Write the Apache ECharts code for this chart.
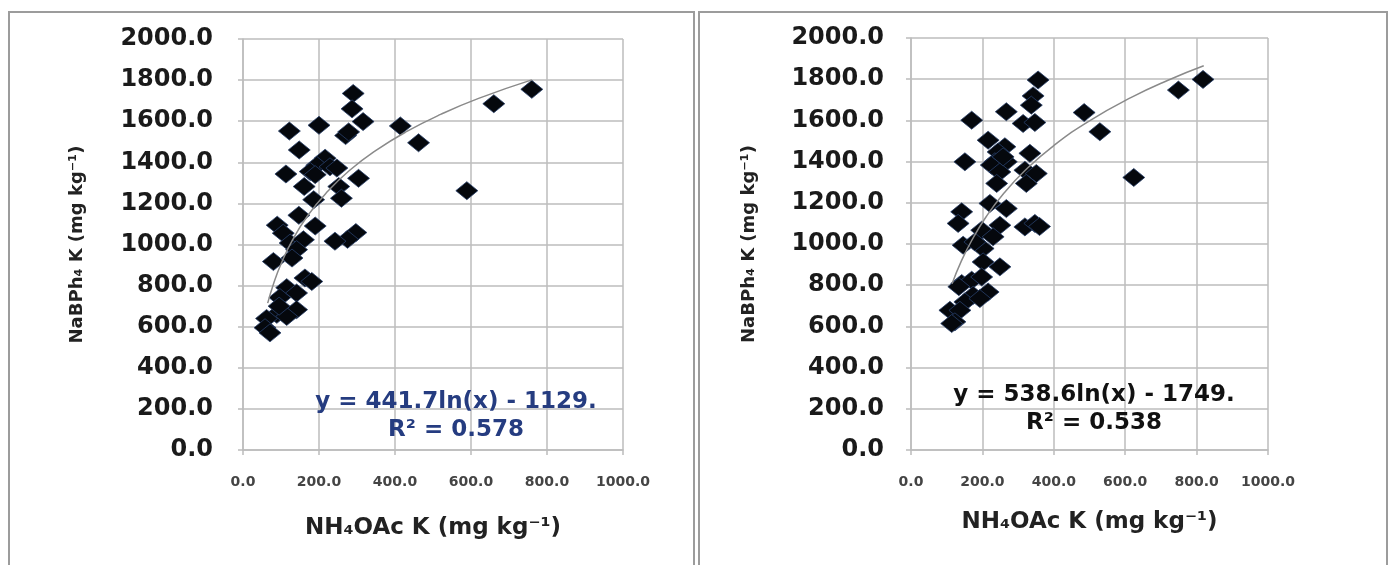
<!DOCTYPE html>
<html>
<head>
<meta charset="utf-8">
<script src="https://cdn.jsdelivr.net/npm/echarts@6/dist/echarts.min.js"></script>
<style>
  html, body { margin:0; padding:0; background:#fff; }
  #chart { width:1391px; height:565px; }
</style>
</head>
<body>
<div id="chart"></div>
<script>
// NH4OAc K (x) vs NaBPh4 K (y), mg/kg — left panel
const leftX = [760,660,589,462,414,290,287,316,200,122,270,278,148,216,194,229,247,113,177,190,304,161,252,186,259,147,90,190,297,275,242,106,124,159,141,129,80,163,181,115,97,141,141,89,115,62,58,71,95];
const leftY = [1755,1685,1262,1495,1577,1735,1660,1598,1580,1552,1530,1548,1460,1420,1385,1378,1372,1343,1355,1340,1322,1282,1282,1218,1225,1142,1094,1090,1058,1025,1016,1055,1007,1023,975,934,917,837,820,790,742,764,683,660,650,640,595,570,700];
// right panel
const rightX = [818,749,485,529,624,356,342,337,267,170,314,347,216,263,244,151,333,235,267,225,249,319,351,240,323,221,267,142,132,319,347,249,198,230,146,202,179,202,249,142,170,198,216,174,151,193,109,137,123,114,134,360,258];
const rightY = [1799,1747,1638,1545,1323,1796,1719,1674,1642,1601,1585,1590,1504,1472,1447,1399,1440,1399,1399,1383,1350,1358,1342,1294,1294,1197,1172,1156,1100,1083,1100,1091,1067,1035,994,978,1010,913,889,808,824,840,767,751,719,735,678,678,622,614,793,1085,1423];

// log trendlines as drawn
const leftTrendX = [65,80,100,130,170,220,280,350,430,520,620,760];
const leftTrendY = [715,807,905,1021,1140,1253,1360,1458,1549,1633,1711,1801];
const rightTrendX = [115,140,170,210,260,320,400,500,620,720,820];
const rightTrendY = [807,913,1017,1131,1246,1358,1478,1598,1714,1795,1865];

const leftEq = ['y = 441.7ln(x) - 1129.', 'R² = 0.578'];
const rightEq = ['y = 538.6ln(x) - 1749.', 'R² = 0.538'];

const xTitle = 'NH₄OAc K (mg kg⁻¹)';
const yTitle = 'NaBPh₄ K (mg kg⁻¹)';

const font = 'DejaVu Sans';
const gridColor = '#bcbcbc';

const zip = (xs, ys) => xs.map((x, i) => [x, ys[i]]);

function xAxis(idx, gap){
  return {
    type: 'value', gridIndex: idx, min: 0, max: 1000, interval: 200,
    name: xTitle, nameLocation: 'middle', nameGap: gap,
    nameTextStyle: { fontFamily: font, fontWeight: 'bold', fontSize: 23, color: '#222' },
    axisLine: { show: true, lineStyle: { color: gridColor, width: 1.5 } },
    axisTick: { show: true, length: 5, lineStyle: { color: gridColor, width: 1.5 } },
    axisLabel: { margin: 25, fontFamily: font, fontWeight: 'bold', fontSize: 14, color: '#444', formatter: v => v.toFixed(1) },
    splitLine: { show: true, lineStyle: { color: gridColor, width: 1.5 } }
  };
}
function yAxis(idx, gap, margin){
  return {
    type: 'value', gridIndex: idx, min: 0, max: 2000, interval: 200,
    name: yTitle, nameLocation: 'middle', nameGap: gap, nameRotate: 90,
    nameTextStyle: { fontFamily: font, fontWeight: 'bold', fontSize: 18, color: '#222' },
    axisLine: { show: true, lineStyle: { color: gridColor, width: 1.5 } },
    axisTick: { show: true, length: 5, lineStyle: { color: gridColor, width: 1.5 } },
    axisLabel: { margin: margin, fontFamily: font, fontWeight: 'bold', fontSize: 24, color: '#1a1a1a', formatter: v => v.toFixed(1) },
    splitLine: { show: true, lineStyle: { color: gridColor, width: 1.5 } }
  };
}
function pts(idx, xs, ys){
  return {
    type: 'scatter', xAxisIndex: idx, yAxisIndex: idx,
    data: zip(xs, ys), symbol: 'diamond', symbolSize: [22, 18],
    itemStyle: { color: '#05080d', opacity: 1, borderColor: '#28406a', borderWidth: 0.8 }, z: 3
  };
}
function trend(idx, xs, ys){
  return {
    type: 'line', xAxisIndex: idx, yAxisIndex: idx,
    data: zip(xs, ys), symbol: 'none', smooth: true,
    lineStyle: { color: '#8a8a8a', width: 1.5 }, z: 4
  };
}
function eqText(lines, cx, y1, y2, color){
  const st = { fontFamily: font, fontWeight: 'bold', fontSize: 23, fill: color, textAlign: 'center', textVerticalAlign: 'middle' };
  return [
    { type: 'text', x: cx, y: y1, style: Object.assign({ text: lines[0] }, st), z: 10 },
    { type: 'text', x: cx, y: y2, style: Object.assign({ text: lines[1] }, st), z: 10 }
  ];
}

const chart = echarts.init(document.getElementById('chart'), null, { renderer: 'canvas' });
chart.setOption({
  backgroundColor: '#fff',
  animation: false,
  grid: [
    { left: 243, top: 39, width: 380, height: 411 },
    { left: 911, top: 38, width: 357, height: 412 }
  ],
  xAxis: [xAxis(0, 67), xAxis(1, 61)],
  yAxis: [yAxis(0, 157, 30), yAxis(1, 153, 27)],
  series: [
    pts(0, leftX, leftY), trend(0, leftTrendX, leftTrendY),
    pts(1, rightX, rightY), trend(1, rightTrendX, rightTrendY)
  ],
  graphic: [
    { type: 'rect', shape: { x: 9, y: 12, width: 685, height: 600 }, style: { fill: 'none', stroke: '#9c9c9c', lineWidth: 2 } },
    { type: 'rect', shape: { x: 699, y: 12, width: 688, height: 600 }, style: { fill: 'none', stroke: '#9c9c9c', lineWidth: 2 } },
    ...eqText(leftEq, 456, 402, 430, '#253c80'),
    ...eqText(rightEq, 1094, 395, 423, '#111')
  ]
});
</script>
</body>
</html>
